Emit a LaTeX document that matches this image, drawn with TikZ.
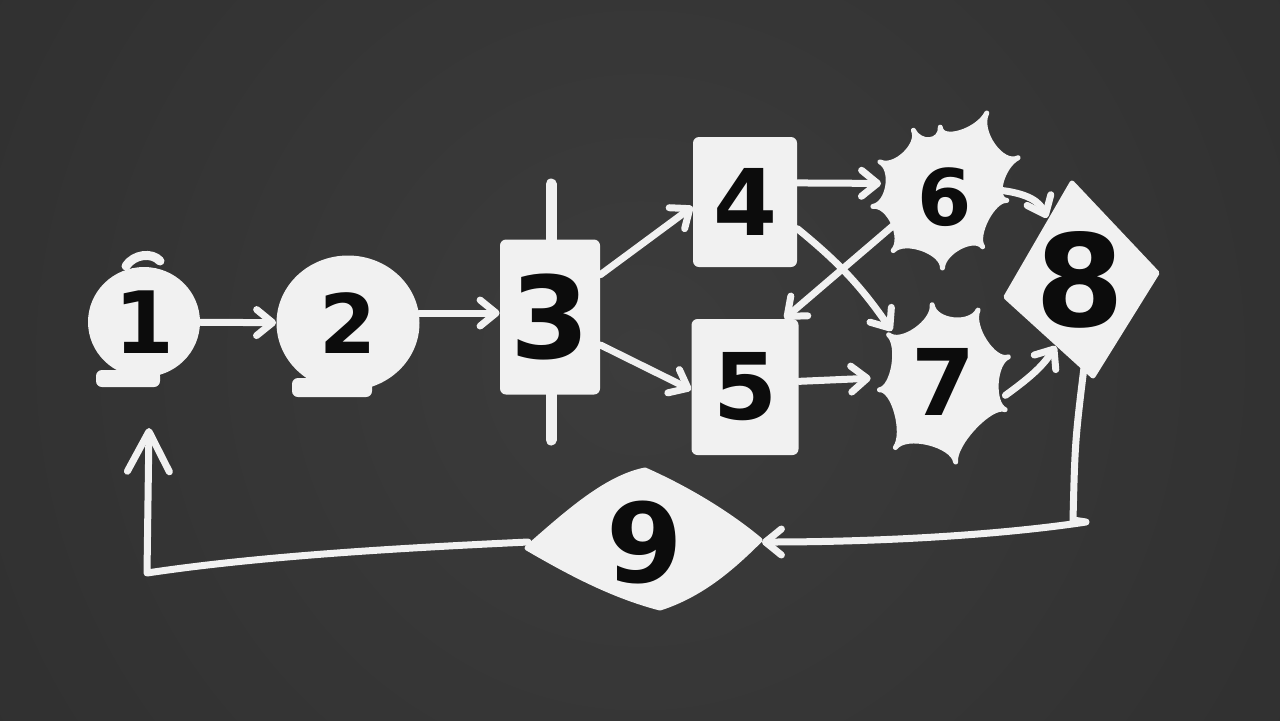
\documentclass[tikz,border=0pt]{standalone}
\usepackage{fontspec}
\setmainfont{DejaVu Sans}
\usetikzlibrary{arrows.meta,shapes.geometric,calc}
\definecolor{board}{RGB}{50,50,50}
\definecolor{boardin}{RGB}{60,60,60}
\definecolor{boardout}{RGB}{38,38,38}
\definecolor{chalk}{RGB}{241,241,241}
\definecolor{ink}{RGB}{12,12,12}
\begin{document}
\begin{tikzpicture}[x=0.5pt,y=-0.5pt,
  chalkfill/.style={fill=chalk,draw=chalk,line width=2.5pt,line join=round},
  wire/.style={draw=chalk,line width=3.5pt,line cap=round,line join=round},
  arr/.style={wire,-{Straight Barb[length=8pt,width=13pt,round]}},
  bigarr/.style={wire,-{Straight Barb[length=20pt,width=21pt,round]}},
  digit/.style={text=ink,inner sep=0pt,font=\bfseries\fontsize{#1}{#1}\selectfont},
  boxnode/.style={rectangle,fill=chalk,rounded corners=3pt},
  ghost/.style={circle}
]
\fill[board] (0,0) rectangle (1280,720);
\begin{scope}
\clip (0,0) rectangle (1280,720);
\shade[inner color=boardin,outer color=boardout] (640,360) circle [radius=700pt];
\end{scope}
\useasboundingbox (0,0) rectangle (1280,720);

% ---- hand-drawn extras
\draw[wire,line width=4.5pt] (126,266) .. controls (134,254) and (152,252) .. (160,261);
\fill[chalk,rounded corners=3pt] (96,370) rectangle (160,387);
\fill[chalk,rounded corners=3pt] (292,378) rectangle (372,397);
\draw[wire,line width=5.5pt] (551,184) -- (551,440);

% ---- star 6
\begin{scope}[shift={(945,195)},yscale=-1]
\filldraw[chalkfill] (63:92)
  \foreach \a/\r [remember=\a as \pa (initially 63), remember=\r as \pr (initially 92)]
    in {94/68,116/72,153/73,189/73,227/76,268/73,306/64,355/62,387/82,423/92}
  { .. controls (\pa:{0.78*\pr}) and (\a:{0.78*\r}) .. (\a:\r) } -- cycle;
\end{scope}
% ---- star 7
\begin{scope}[shift={(943,382)},yscale=-1]
\filldraw[chalkfill] (64:80)
  \foreach \a/\r [remember=\a as \pa (initially 64), remember=\r as \pr (initially 80)]
    in {98/78,139/72,187/64,234/81,279/81,336/68,381/70,424/80}
  { .. controls (\pa:{0.78*\pr}) and (\a:{0.78*\r}) .. (\a:\r) } -- cycle;
\end{scope}
% ---- kite 8
\filldraw[chalkfill] (1072,183) -- (1157,273) -- (1093,376) -- (1006,297) -- cycle;
% ---- lens 9
\filldraw[chalkfill] (527,548) .. controls (565,515) and (605,478) .. (645,470)
  .. controls (690,490) and (730,515) .. (760,540)
  .. controls (730,570) and (700,595) .. (660,608)
  .. controls (610,595) and (565,570) .. (527,548) -- cycle;

% ---- nodes
\node[ellipse,fill=chalk,minimum width=56pt,minimum height=55pt,digit=43] (n1) at (144,322) {1};
\node[ellipse,fill=chalk,minimum width=71.5pt,minimum height=67.5pt,digit=41] (n2) at (348,323) {2};
\node[boxnode,minimum width=50pt,minimum height=77.5pt,digit=57] (n3) at (550,317) {3};
\node[boxnode,minimum width=52pt,minimum height=65pt,digit=46] (n4) at (745,202) {4};
\node[boxnode,minimum width=53.5pt,minimum height=68pt,digit=46] (n5) at (745,387) {5};
\node[ghost,minimum size=65pt,digit=39] (n6) at (945,197) {6};
\node[ghost,minimum size=72pt,digit=46] (n7) at (943,382) {7};
\node[ghost,minimum size=70pt,digit=64] (n8) at (1080,280) {8};
\node[diamond,minimum width=116.5pt,minimum height=69pt,digit=55] (n9) at (645,542) {9};

\coordinate (k1) at (1073,520);
\coordinate (k2) at (1086,522);
\coordinate (c91) at (147,573);
\coordinate (t1) at (149,428);

% ---- connectors
\draw[arr] (n1) -- (n2);
\draw[arr] (n2.8) -- (n2.8 -| n3.west);
\draw[arr] (n3.40) -- (n4.185);
\draw[arr] (n3.-29) -- (n5.183);
\draw[arr] (n4.20) -- (n6.168);
\draw[arr] (n4.-27) to[bend left=8] (n7.135);
\draw[arr,shorten <=-6pt] (n6.210) -- (n5.60);
\draw[arr] (n5.6) -- (n7.177);
\draw[arr,shorten <=-6pt] (n6.5) to[bend left=30] (n8.118);
\draw[arr,shorten <=-6pt] (n7.-5) to[bend right=10] (n8.250);
\draw[arr] (n8.275) .. controls (1075,440) .. (k1) -- (k2)
  .. controls (1000,535) and (880,542) .. (n9.east);
\draw[bigarr] (n9.west) .. controls (400,548) and (260,556) .. (c91) -- (t1);
\end{tikzpicture}
\end{document}
